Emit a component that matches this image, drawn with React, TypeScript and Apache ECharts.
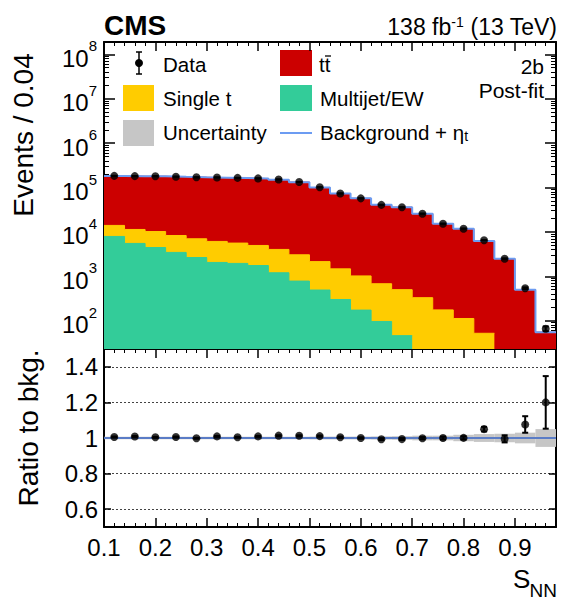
import React, { useEffect, useRef } from "react";
import * as echarts from "echarts";

// ---------- data ----------
const BIN_EDGES = [0.1, 0.14, 0.18, 0.22, 0.26, 0.3, 0.34, 0.38, 0.42, 0.46, 0.5, 0.54, 0.58, 0.62, 0.66, 0.7, 0.74, 0.78, 0.82, 0.86, 0.9, 0.94, 0.98];
const MULTIJET = [7900, 5500, 4450, 3450, 2650, 2050, 1950, 1750, 1200, 780, 490, 300, 173, 96, 46, 0, 0, 0, 0, 0, 0, 0];
const SINGLE_T = [6100, 5850, 5750, 4850, 4350, 4050, 3650, 3200, 2830, 2270, 1650, 1170, 847, 584, 454, 330, 175, 112, 52, 0, 0, 0];
const TTBAR = [168000, 167700, 168800, 165700, 163000, 160900, 158400, 154000, 146000, 129000, 97900, 71500, 56000, 40300, 35500, 25400, 15100, 11700, 6150, 2500, 500, 55];
const DATA = [183100, 180600, 179700, 175000, 169700, 168500, 164700, 160400, 152000, 133700, 101100, 73290, 57000, 40710, 35780, 25700, 15270, 11820, 6510, 2488, 538, 66];
const BKG_UNC = [0.007, 0.007, 0.007, 0.007, 0.007, 0.007, 0.007, 0.007, 0.007, 0.007, 0.008, 0.008, 0.008, 0.009, 0.01, 0.013, 0.013, 0.018, 0.022, 0.024, 0.03, 0.05];

// ---------- axis ticks ----------
const X_MAJOR = [0.1, 0.2, 0.3, 0.4, 0.5, 0.6, 0.7, 0.8, 0.9];
const X_MINOR = [0.12, 0.14, 0.16, 0.18, 0.22, 0.24, 0.26, 0.28, 0.32, 0.34, 0.36, 0.38, 0.42, 0.44, 0.46, 0.48, 0.52, 0.54, 0.56, 0.58, 0.62, 0.64, 0.66, 0.68, 0.72, 0.74, 0.76, 0.78, 0.82, 0.84, 0.86, 0.88, 0.92, 0.94, 0.96];
const Y_MAJOR = [1e2, 1e3, 1e4, 1e5, 1e6, 1e7, 1e8];
const Y_DECADES = [1e1, 1e2, 1e3, 1e4, 1e5, 1e6, 1e7];
const Y_MULTS = [2, 3, 4, 5, 6, 7, 8, 9];
const R_MAJOR = [0.6, 0.8, 1, 1.2, 1.4];

const X_MIN = 0.1, X_MAX = 0.98;
const Y_MIN = 23, Y_MAX = 1.9e8;
const R_MIN = 0.5, R_MAX = 1.5;

const FONT = "'Liberation Sans', Arial, Helvetica, sans-serif";
const RED = "#cc0000", YELLOW = "#ffcc00", GREEN = "#33cc99", GREY = "#c6c6c6", BLUE = "#6c9cf2";

const Y_MINOR: number[] = [];
Y_DECADES.forEach((d) => Y_MULTS.forEach((m) => { const v = d * m; if (v > Y_MIN && v < Y_MAX) Y_MINOR.push(v); }));

const CUM_YELLOW = MULTIJET.map((m, i) => m + SINGLE_T[i]);
const TOTAL = TTBAR.map((t, i) => t + CUM_YELLOW[i]);
const CENTERS = BIN_EDGES.slice(0, -1).map((e, i) => (e + BIN_EDGES[i + 1]) / 2);

function stepPoints(values: number[]): number[][] {
  const pts: number[][] = [];
  let last = -1;
  for (let i = 0; i < values.length; i++) {
    if (values[i] > 0) { pts.push([BIN_EDGES[i], values[i]]); last = i; } else break;
  }
  if (last >= 0) pts.push([BIN_EDGES[last + 1], values[last]]);
  return pts;
}

function xAxis(gridIndex: number, position: string, ticks: number[], len: number, line: boolean, labels: boolean) {
  return {
    type: "value", gridIndex, position, min: X_MIN, max: X_MAX,
    splitLine: { show: false },
    axisLine: { show: line, lineStyle: { color: "#000", width: 2 } },
    axisTick: { show: true, inside: true, length: len, customValues: ticks, lineStyle: { color: "#000", width: len > 5 ? 1.5 : 1 } },
    axisLabel: labels
      ? { show: true, customValues: X_MAJOR, margin: 8, fontSize: 24, fontFamily: FONT, color: "#000", formatter: (v: number) => v.toFixed(1) }
      : { show: false },
  };
}

function logYAxis(position: string, ticks: number[], len: number, line: boolean, labels: boolean) {
  return {
    type: "log", logBase: 10, gridIndex: 0, position, min: Y_MIN, max: Y_MAX,
    splitLine: { show: false },
    axisLine: { show: line, lineStyle: { color: "#000", width: 2 } },
    axisTick: { show: true, inside: true, length: len, customValues: ticks, lineStyle: { color: "#000", width: len > 6 ? 1.5 : 1 } },
    axisLabel: labels
      ? {
          show: true, customValues: Y_MAJOR, margin: 7,
          formatter: (v: number) => `{b|10}{s|${Math.round(Math.log10(v))}}`,
          rich: {
            b: { fontSize: 24, fontFamily: FONT, color: "#000", padding: [8, 0, 0, 0] },
            s: { fontSize: 15, fontFamily: FONT, color: "#000", verticalAlign: "top" },
          },
        }
      : { show: false },
  };
}

function ratioYAxis(position: string, labels: boolean) {
  return {
    type: "value", gridIndex: 1, position, min: R_MIN, max: R_MAX,
    splitLine: labels ? { show: true, lineStyle: { color: "#444", width: 1, type: [2, 2] } } : { show: false },
    axisLine: { show: true, lineStyle: { color: "#000", width: 2 } },
    axisTick: { show: true, inside: true, length: 7, customValues: R_MAJOR, lineStyle: { color: "#000", width: 1.5 } },
    axisLabel: labels
      ? { show: true, customValues: R_MAJOR, margin: 6, fontSize: 24, fontFamily: FONT, color: "#000", formatter: (v: number) => String(Math.round(v * 10) / 10) }
      : { show: false },
  };
}

const errRender = (params: any, api: any) => {
  const x = api.value(0), lo = api.value(1), hi = api.value(2);
  const p1 = api.coord([x, lo]);
  const p2 = api.coord([x, hi]);
  const w = 3;
  const st = { stroke: "#000", lineWidth: 2 };
  return {
    type: "group",
    children: [
      { type: "line", shape: { x1: p1[0], y1: p1[1], x2: p2[0], y2: p2[1] }, style: st },
      { type: "line", shape: { x1: p1[0] - w, y1: p1[1], x2: p1[0] + w, y2: p1[1] }, style: st },
      { type: "line", shape: { x1: p2[0] - w, y1: p2[1], x2: p2[0] + w, y2: p2[1] }, style: st },
    ],
  };
};

const bandRender = (params: any, api: any) => {
  const a = api.coord([api.value(0), api.value(3)]);
  const b = api.coord([api.value(1), api.value(2)]);
  return { type: "rect", shape: { x: a[0], y: a[1], width: b[0] - a[0], height: b[1] - a[1] }, style: { fill: GREY } };
};

function areaSeries(values: number[], color: string, z: number) {
  return {
    type: "line", xAxisIndex: 0, yAxisIndex: 0, step: "end", data: stepPoints(values), symbol: "none", z,
    lineStyle: { width: 1, color }, areaStyle: { color, opacity: 1, origin: "start" }, silent: true, clip: true,
  };
}

const txt = (x: number, y: number, text: string, size: number, align: string, extra: any = {}) => ({
  type: "text", x, y, silent: true,
  style: { text, fill: "#000", fontSize: size, fontFamily: FONT, align, verticalAlign: "middle", textAlign: align, textVerticalAlign: "middle", ...extra },
});

function buildOption() {
  const ratio = DATA.map((d, i) => d / TOTAL[i]);
  const ratioErr = DATA.map((d, i) => Math.sqrt(d) / TOTAL[i]);
  return {
    animation: false,
    grid: [
      { left: 104, top: 42, width: 452, height: 307 },
      { left: 104, top: 349, width: 452, height: 178 },
    ],
    xAxis: [
      xAxis(0, "bottom", X_MAJOR, 9, true, false),
      xAxis(0, "bottom", X_MINOR, 4, false, false),
      xAxis(0, "top", X_MAJOR, 9, true, false),
      xAxis(0, "top", X_MINOR, 4, false, false),
      xAxis(1, "bottom", X_MAJOR, 9, true, true),
      xAxis(1, "bottom", X_MINOR, 4, false, false),
      xAxis(1, "top", X_MAJOR, 9, true, false),
      xAxis(1, "top", X_MINOR, 4, false, false),
    ],
    yAxis: [
      logYAxis("left", Y_MAJOR, 11, true, true),
      logYAxis("left", Y_MINOR, 5, false, false),
      logYAxis("right", Y_MAJOR, 11, true, false),
      logYAxis("right", Y_MINOR, 5, false, false),
      ratioYAxis("left", true),
      ratioYAxis("right", false),
    ],
    series: [
      areaSeries(TOTAL, RED, 1),
      areaSeries(CUM_YELLOW, YELLOW, 2),
      areaSeries(MULTIJET, GREEN, 3),
      {
        type: "line", xAxisIndex: 0, yAxisIndex: 0, step: "end", data: stepPoints(TOTAL), symbol: "none", z: 4,
        lineStyle: { color: BLUE, width: 2 }, silent: true,
      },
      {
        type: "custom", xAxisIndex: 0, yAxisIndex: 0, z: 5, renderItem: errRender, encode: { x: 0, y: [1, 2] },
        data: DATA.map((d, i) => [CENTERS[i], d - Math.sqrt(d), d + Math.sqrt(d)]), silent: true,
      },
      {
        type: "scatter", xAxisIndex: 0, yAxisIndex: 0, z: 6, symbolSize: 8, itemStyle: { color: "#000" },
        data: DATA.map((d, i) => [CENTERS[i], d]), silent: true,
      },
      // ratio panel
      {
        type: "custom", xAxisIndex: 4, yAxisIndex: 4, z: 1, renderItem: bandRender, encode: { x: [0, 1], y: [2, 3] },
        data: BKG_UNC.map((u, i) => [BIN_EDGES[i], BIN_EDGES[i + 1], 1 - u, 1 + u]), silent: true,
      },
      {
        type: "line", xAxisIndex: 4, yAxisIndex: 4, z: 2, data: [[X_MIN, 1], [X_MAX, 1]], symbol: "none",
        lineStyle: { color: "#5a7cc6", width: 2 }, silent: true,
      },
      {
        type: "custom", xAxisIndex: 4, yAxisIndex: 4, z: 3, renderItem: errRender, encode: { x: 0, y: [1, 2] },
        data: ratio.map((r, i) => [CENTERS[i], r - ratioErr[i], r + ratioErr[i]]), silent: true,
      },
      {
        type: "scatter", xAxisIndex: 4, yAxisIndex: 4, z: 4, symbolSize: 8, itemStyle: { color: "#000" },
        data: ratio.map((r, i) => [CENTERS[i], r]), silent: true,
      },
    ],
    graphic: [
      txt(104, 25, "CMS", 28, "left", { fontWeight: "bold" }),
      {
        type: "text", x: 557, y: 27, silent: true,
        style: {
          text: "{a|138 fb}{s|-1}{a| (13 TeV)}", align: "right", verticalAlign: "middle", textAlign: "right", textVerticalAlign: "middle",
          rich: {
            a: { fontSize: 23, fontFamily: FONT, fill: "#000", color: "#000", lineHeight: 24 },
            s: { fontSize: 14, fontFamily: FONT, fill: "#000", color: "#000", lineHeight: 14, verticalAlign: "top" },
          },
        },
      },
      txt(544, 66, "2b", 21, "right"),
      txt(544, 90, "Post-fit", 21, "right"),
      { ...txt(23, 135, "Events / 0.04", 28, "center"), rotation: Math.PI / 2 },
      { ...txt(28, 428, "Ratio to bkg.", 28, "center"), rotation: Math.PI / 2 },
      txt(513, 579, "S", 26, "left"),
      txt(557, 590, "NN", 19, "right"),
      // legend
      { type: "line", silent: true, shape: { x1: 139, y1: 52, x2: 139, y2: 74 }, style: { stroke: "#000", lineWidth: 1.5 } },
      { type: "line", silent: true, shape: { x1: 136, y1: 52, x2: 142, y2: 52 }, style: { stroke: "#000", lineWidth: 1.5 } },
      { type: "line", silent: true, shape: { x1: 136, y1: 74, x2: 142, y2: 74 }, style: { stroke: "#000", lineWidth: 1.5 } },
      { type: "circle", silent: true, shape: { cx: 139, cy: 63, r: 4 }, style: { fill: "#000" } },
      txt(163, 64, "Data", 20.5, "left"),
      { type: "rect", silent: true, shape: { x: 123, y: 85, width: 31, height: 26 }, style: { fill: YELLOW } },
      txt(163, 98, "Single t", 20.5, "left"),
      { type: "rect", silent: true, shape: { x: 123, y: 120, width: 31, height: 26 }, style: { fill: GREY } },
      txt(163, 132, "Uncertainty", 20.5, "left"),
      { type: "rect", silent: true, shape: { x: 280, y: 50, width: 32, height: 26 }, style: { fill: RED } },
      txt(319, 64, "tt", 20.5, "left"),
      { type: "line", silent: true, shape: { x1: 325, y1: 56, x2: 331, y2: 56 }, style: { stroke: "#000", lineWidth: 1.3 } },
      { type: "rect", silent: true, shape: { x: 280, y: 85, width: 32, height: 26 }, style: { fill: GREEN } },
      txt(320, 98, "Multijet/EW", 20.5, "left"),
      { type: "line", silent: true, shape: { x1: 280, y1: 133, x2: 312, y2: 133 }, style: { stroke: BLUE, lineWidth: 2 } },
      {
        type: "text", x: 320, y: 132, silent: true,
        style: {
          text: "{a|Background + η}{b|t}", align: "left", verticalAlign: "middle", textAlign: "left", textVerticalAlign: "middle",
          rich: {
            a: { fontSize: 20.5, fontFamily: FONT, fill: "#000", color: "#000", lineHeight: 22 },
            b: { fontSize: 14, fontFamily: FONT, fill: "#000", color: "#000", lineHeight: 14, verticalAlign: "bottom" },
          },
        },
      },
    ],
  };
}

export default function App() {
  const ref = useRef<HTMLDivElement>(null);
  useEffect(() => {
    document.body.style.margin = "0";
    const chart = echarts.init(ref.current as HTMLDivElement, null, { renderer: "svg" });
    chart.setOption(buildOption() as any);
    return () => chart.dispose();
  }, []);
  return <div ref={ref} style={{ width: 580, height: 604 }} />;
}
